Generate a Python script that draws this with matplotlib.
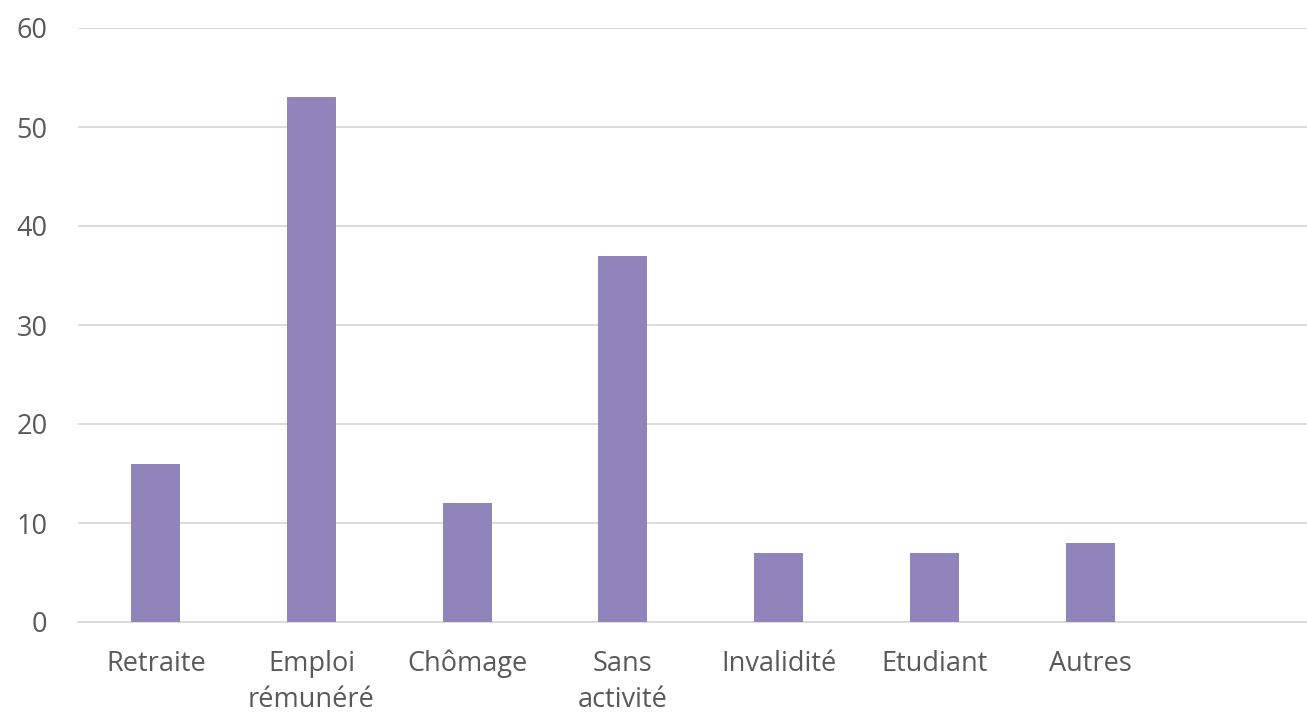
import matplotlib
matplotlib.use("Agg")
import matplotlib.pyplot as plt

categories = ["Retraite", "Emploi\nrémunéré", "Chômage", "Sans\nactivité", "Invalidité", "Etudiant", "Autres", ""]
values = [16, 53, 12, 37, 7, 7, 8, 0]
yticks = [0, 10, 20, 30, 40, 50, 60]

plt.rcParams['font.family'] = ['Open Sans', 'DejaVu Sans']
fig = plt.figure(figsize=(13.07, 7.14), dpi=100)
ax = fig.add_axes([78/1307, 92/714, 1245.6/1307, 594/714])

x = list(range(len(categories)))
ax.bar(x, values, width=0.315, color="#9085BA", zorder=3)
ax.set_xlim(-0.5, len(categories) - 0.5)
ax.set_ylim(0, 60)
ax.set_yticks(yticks)
ax.set_yticklabels([str(t) for t in yticks], fontsize=19.5, color="#595959")
ax.set_xticks(x)
ax.set_xticklabels(categories, fontsize=19.5, color="#595959", linespacing=1.38)
ax.tick_params(axis='both', length=0)
ax.tick_params(axis='x', pad=20)
ax.tick_params(axis='y', pad=22)
ax.grid(axis='y', color="#D9D9D9", linewidth=1.3, zorder=0)
for s in ["top", "right", "left"]:
    ax.spines[s].set_visible(False)
ax.spines["bottom"].set_color("#D9D9D9")
ax.spines["bottom"].set_linewidth(1.3)

fig.savefig("out.png", dpi=100)
